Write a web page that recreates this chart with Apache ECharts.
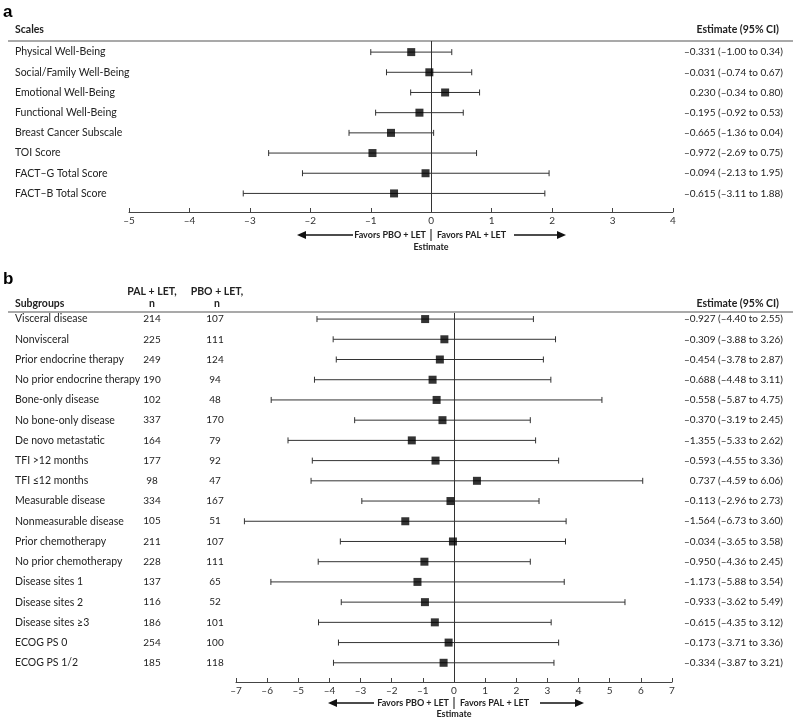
<!DOCTYPE html>
<html>
<head>
<meta charset="utf-8">
<script src="https://cdn.jsdelivr.net/npm/echarts@6/dist/echarts.min.js"></script>
<style>
html,body{margin:0;padding:0;background:#fff;}
#chart{width:793px;height:717px;}
</style>
</head>
<body>
<div id="chart"></div>
<script>
// ---- Panel a data ----
const scaleNames = ["Physical Well-Being","Social/Family Well-Being","Emotional Well-Being","Functional Well-Being","Breast Cancer Subscale","TOI Score","FACT\u2013G Total Score","FACT\u2013B Total Score"];
const scaleEst = [-0.331,-0.031,0.230,-0.195,-0.665,-0.972,-0.094,-0.615];
const scaleLo  = [-1.00,-0.74,-0.34,-0.92,-1.36,-2.69,-2.13,-3.11];
const scaleHi  = [0.34,0.67,0.80,0.53,0.04,0.75,1.95,1.88];
const scaleTicks = [-5,-4,-3,-2,-1,0,1,2,3,4];

// ---- Panel b data ----
const subgroups = ["Visceral disease","Nonvisceral","Prior endocrine therapy","No prior endocrine therapy","Bone-only disease","No bone-only disease","De novo metastatic","TFI >12 months","TFI \u226412 months","Measurable disease","Nonmeasurable disease","Prior chemotherapy","No prior chemotherapy","Disease sites 1","Disease sites 2","Disease sites \u22653","ECOG PS 0","ECOG PS 1/2"];
const palN = [214,225,249,190,102,337,164,177,98,334,105,211,228,137,116,186,254,185];
const pboN = [107,111,124,94,48,170,79,92,47,167,51,107,111,65,52,101,100,118];
const subEst = [-0.927,-0.309,-0.454,-0.688,-0.558,-0.370,-1.355,-0.593,0.737,-0.113,-1.564,-0.034,-0.950,-1.173,-0.933,-0.615,-0.173,-0.334];
const subLo  = [-4.40,-3.88,-3.78,-4.48,-5.87,-3.19,-5.33,-4.55,-4.59,-2.96,-6.73,-3.65,-4.36,-5.88,-3.62,-4.35,-3.71,-3.87];
const subHi  = [2.55,3.26,2.87,3.11,4.75,2.45,2.62,3.36,6.06,2.73,3.60,3.58,2.45,3.54,5.49,3.12,3.36,3.21];
const subTicks = [-7,-6,-5,-4,-3,-2,-1,0,1,2,3,4,5,6,7];

const FONT = 'Lato';
const TXT = '#222';
const LBL = '10.5px ' + FONT;
const NUM = '10px ' + FONT;
const dash = s => String(s).replace(/-/g,'\u2013');
const estText = (e,l,h) => dash(e.toFixed(3)) + ' (' + dash(l.toFixed(2)) + ' to ' + dash(h.toFixed(2)) + ')';

function errRender(params, api){
  const lo = api.value(0), hi = api.value(1), i = api.value(2);
  const a = api.coord([lo,i]), b = api.coord([hi,i]);
  const st = {stroke:'#333', lineWidth:1};
  return {type:'group', children:[
    {type:'line', shape:{x1:a[0],y1:a[1],x2:b[0],y2:b[1]}, style:st},
    {type:'line', shape:{x1:a[0],y1:a[1]-3,x2:a[0],y2:a[1]+3}, style:st},
    {type:'line', shape:{x1:b[0],y1:b[1]-3,x2:b[0],y2:b[1]+3}, style:st}
  ]};
}

function textRenderA(params, api){
  const i = params.dataIndex;
  const y = api.coord([0,i])[1];
  return {type:'group', children:[
    {type:'text', style:{text:scaleNames[i], x:15, y:y, textVerticalAlign:'middle', textAlign:'left', font:LBL, fill:TXT}},
    {type:'text', style:{text:estText(scaleEst[i],scaleLo[i],scaleHi[i]), x:783, y:y, textVerticalAlign:'middle', textAlign:'right', font:NUM, fill:TXT}}
  ]};
}
function textRenderB(params, api){
  const i = params.dataIndex;
  const y = api.coord([0,i])[1];
  return {type:'group', children:[
    {type:'text', style:{text:subgroups[i], x:15, y:y, textVerticalAlign:'middle', textAlign:'left', font:LBL, fill:TXT}},
    {type:'text', style:{text:String(palN[i]), x:152, y:y, textVerticalAlign:'middle', textAlign:'center', font:NUM, fill:TXT}},
    {type:'text', style:{text:String(pboN[i]), x:215, y:y, textVerticalAlign:'middle', textAlign:'center', font:NUM, fill:TXT}},
    {type:'text', style:{text:estText(subEst[i],subLo[i],subHi[i]), x:783, y:y, textVerticalAlign:'middle', textAlign:'right', font:NUM, fill:TXT}}
  ]};
}

function xAxisCfg(grid, min, max){
  return {gridIndex:grid, type:'value', min:min, max:max, interval:1,
    axisLine:{show:true, onZero:false, lineStyle:{color:'#444', width:1}},
    axisTick:{show:true, inside:true, length:4, lineStyle:{color:'#444'}},
    axisLabel:{formatter:v=>dash(v), fontFamily:FONT, fontSize:10, color:'#333', margin:4},
    splitLine:{show:false}};
}

function arrowGroup(cx, y, leftTip, leftEnd, rightStart, rightTip, estY){
  const st = {stroke:'#111', lineWidth:1.3};
  return [
    {type:'line', shape:{x1:leftTip+6,y1:y,x2:leftEnd,y2:y}, style:st},
    {type:'polygon', shape:{points:[[leftTip,y],[leftTip+9,y-4],[leftTip+9,y+4]]}, style:{fill:'#111'}},
    {type:'line', shape:{x1:rightStart,y1:y,x2:rightTip-6,y2:y}, style:st},
    {type:'polygon', shape:{points:[[rightTip,y],[rightTip-9,y-4],[rightTip-9,y+4]]}, style:{fill:'#111'}},
    {type:'line', shape:{x1:cx,y1:y-6,x2:cx,y2:y+6}, style:{stroke:'#111', lineWidth:1}},
    {type:'text', style:{text:'Favors PBO + LET', x:cx-5, y:y, textAlign:'right', textVerticalAlign:'middle', font:'bold 9px '+FONT, fill:TXT}},
    {type:'text', style:{text:'Favors PAL + LET', x:cx+6, y:y, textAlign:'left', textVerticalAlign:'middle', font:'bold 9px '+FONT, fill:TXT}},
    {type:'text', style:{text:'Estimate', x:cx, y:estY, textAlign:'center', textVerticalAlign:'middle', font:'bold 9px '+FONT, fill:TXT}}
  ];
}

const chart = echarts.init(document.getElementById('chart'), null, {renderer:'canvas'});
const idxA = scaleNames.map((_,i)=>i);
const idxB = subgroups.map((_,i)=>i);

const option = {
  animation:false,
  backgroundColor:'#fff',
  grid:[
    {left:129, right:120, top:41, height:171},
    {left:236, right:121, top:313, height:369}
  ],
  xAxis:[xAxisCfg(0,-5,4), xAxisCfg(1,-7,7)],
  yAxis:[
    {gridIndex:0, type:'value', min:-0.55, max:7.92, inverse:true, show:false},
    {gridIndex:1, type:'value', min:-0.3, max:17.95, inverse:true, show:false}
  ],
  series:[
    {type:'custom', xAxisIndex:0, yAxisIndex:0, renderItem:errRender, data:idxA.map(i=>[scaleLo[i],scaleHi[i],i]), z:3, silent:true},
    {type:'scatter', xAxisIndex:0, yAxisIndex:0, symbol:'rect', symbolSize:8, itemStyle:{color:'#000'}, data:idxA.map(i=>[scaleEst[i],i]), z:5,
      markLine:{silent:true, symbol:'none', label:{show:false}, lineStyle:{color:'#333', width:1, type:'solid'}, data:[{xAxis:0}]}},
    {type:'custom', xAxisIndex:0, yAxisIndex:0, renderItem:textRenderA, data:idxA.map(i=>[0,i]), silent:true, clip:false},
    {type:'custom', xAxisIndex:1, yAxisIndex:1, renderItem:errRender, data:idxB.map(i=>[subLo[i],subHi[i],i]), z:3, silent:true},
    {type:'scatter', xAxisIndex:1, yAxisIndex:1, symbol:'rect', symbolSize:8, itemStyle:{color:'#000'}, data:idxB.map(i=>[subEst[i],i]), z:5,
      markLine:{silent:true, symbol:'none', label:{show:false}, lineStyle:{color:'#333', width:1, type:'solid'}, data:[{xAxis:0}]}},
    {type:'custom', xAxisIndex:1, yAxisIndex:1, renderItem:textRenderB, data:idxB.map(i=>[0,i]), silent:true, clip:false}
  ],
  graphic:[
    {type:'text', style:{text:'a', x:3, y:12, textVerticalAlign:'middle', font:'bold 17px Arial, Liberation Sans', fill:'#000'}},
    {type:'text', style:{text:'Scales', x:15, y:30, textVerticalAlign:'middle', font:'bold 10.5px '+FONT, fill:TXT}},
    {type:'text', style:{text:'Estimate (95% CI)', x:779, y:30, textAlign:'right', textVerticalAlign:'middle', font:'bold 10.5px '+FONT, fill:TXT}},
    {type:'line', shape:{x1:8,y1:41,x2:793,y2:41}, style:{stroke:'#555', lineWidth:1.2}},
    ...arrowGroup(431, 235, 297, 353, 514, 566, 247),
    {type:'text', style:{text:'b', x:3, y:279, textVerticalAlign:'middle', font:'bold 17px Arial, Liberation Sans', fill:'#000'}},
    {type:'text', style:{text:'Subgroups', x:15, y:304, textVerticalAlign:'middle', font:'bold 10.5px '+FONT, fill:TXT}},
    {type:'text', style:{text:'PAL + LET,', x:152, y:292, textAlign:'center', textVerticalAlign:'middle', font:'bold 10.5px '+FONT, fill:TXT}},
    {type:'text', style:{text:'n', x:152, y:304, textAlign:'center', textVerticalAlign:'middle', font:'bold 10.5px '+FONT, fill:TXT}},
    {type:'text', style:{text:'PBO + LET,', x:217, y:292, textAlign:'center', textVerticalAlign:'middle', font:'bold 10.5px '+FONT, fill:TXT}},
    {type:'text', style:{text:'n', x:217, y:304, textAlign:'center', textVerticalAlign:'middle', font:'bold 10.5px '+FONT, fill:TXT}},
    {type:'text', style:{text:'Estimate (95% CI)', x:779, y:304, textAlign:'right', textVerticalAlign:'middle', font:'bold 10.5px '+FONT, fill:TXT}},
    {type:'line', shape:{x1:8,y1:312,x2:793,y2:312}, style:{stroke:'#555', lineWidth:1.2}},
    ...arrowGroup(454, 703, 328, 374, 540, 584, 714)
  ]
};
chart.setOption(option);
</script>
</body>
</html>
